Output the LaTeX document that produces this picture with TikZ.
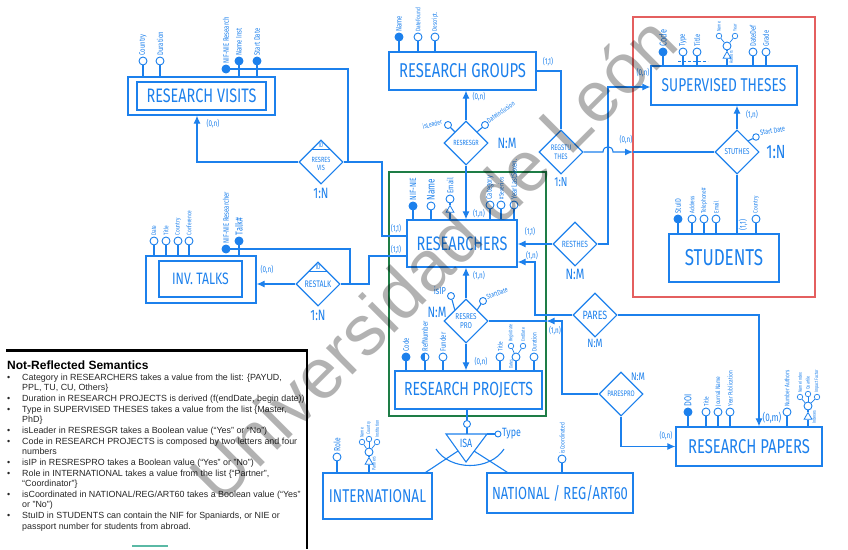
\documentclass[tikz,border=0pt]{standalone}
\usepackage{fontspec}
\setmainfont{Liberation Sans}
\newfontfamily\hand[FakeStretch=0.74]{Fira Sans}
\usetikzlibrary{shapes.geometric,arrows.meta}
\definecolor{inkb}{RGB}{28,128,236}
\definecolor{grnb}{RGB}{30,125,70}
\definecolor{redb}{RGB}{228,95,95}
\definecolor{tealb}{RGB}{90,185,165}
\tikzset{
  ln/.style={draw=inkb, line width=1.1pt},
  arr/.style={ln, -{Latex[length=8pt,width=7pt]}},
  ent/.style={draw=inkb, line width=1.3pt, inner sep=0pt, text=inkb},
  rel/.style={diamond, draw=inkb, line width=1.1pt, inner sep=0pt, minimum width=44pt, minimum height=44pt, text=inkb, align=center, font=\hand\fontsize{7.5}{8}\selectfont},
  att/.style={circle, draw=inkb, line width=0.9pt, fill=white, inner sep=0pt, minimum size=8pt},
  keyatt/.style={att, fill=inkb},
  subatt/.style={att, minimum size=5.5pt, line width=0.7pt},
  tri/.style={regular polygon, regular polygon sides=3, draw=inkb, line width=0.8pt, inner sep=0pt, minimum size=10pt, fill=white},
  lab/.style={font=\hand\fontsize{8}{8}\selectfont, text=inkb, rotate=90, anchor=west, inner sep=1pt},
  slab/.style={lab, font=\hand\fontsize{6.5}{6.5}\selectfont},
  tlab/.style={lab, font=\hand\fontsize{5}{5}\selectfont},
  labh/.style={font=\hand\fontsize{7.5}{7.5}\selectfont, text=inkb, inner sep=1pt},
  card/.style={font=\hand\fontsize{8.5}{8.5}\selectfont, text=inkb, inner sep=0pt},
  ratio/.style={font=\hand\fontsize{15}{15}\selectfont, text=inkb, inner sep=0pt},
}
\begin{document}
\begin{tikzpicture}[x=1pt,y=-1pt]
\useasboundingbox (0,0) rectangle (848,549);
% aggregation frames
\draw[grnb, line width=1.2pt] (389,172) rectangle (546,416);
\draw[redb, line width=1.2pt] (633,17) rectangle (815,297);

% ---------- entities ----------
\node[ent, minimum width=147pt, minimum height=38pt] (rvo) at (201.5,96) {};
\node[ent, minimum width=129pt, minimum height=28pt, font=\hand\fontsize{19.5}{19.5}\selectfont] (rv) at (201.5,96) {RESEARCH VISITS};
\node[ent, minimum width=110pt, minimum height=47pt] (ito) at (201,279.5) {};
\node[ent, minimum width=83pt, minimum height=36pt, font=\hand\fontsize{16.5}{16.5}\selectfont] (it) at (200.5,279) {INV. TALKS};
\node[ent, minimum width=147pt, minimum height=38pt, font=\hand\fontsize{20}{20}\selectfont] (rg) at (462.5,71) {RESEARCH GROUPS};
\node[ent, minimum width=146pt, minimum height=39pt, font=\hand\fontsize{18.5}{18.5}\selectfont] (st) at (724,85.5) {SUPERVISED THESES};
\node[ent, minimum width=110pt, minimum height=48pt, font=\hand\fontsize{23}{23}\selectfont] (stu) at (724,258) {STUDENTS};
\node[ent, minimum width=110pt, minimum height=47pt, font=\hand\fontsize{19.5}{19.5}\selectfont] (res) at (462,243.5) {RESEARCHERS};
\node[ent, minimum width=147pt, minimum height=38pt, font=\hand\fontsize{19}{19}\selectfont] (rp) at (468.5,390) {RESEARCH PROJECTS};
\node[ent, minimum width=109pt, minimum height=46pt, font=\hand\fontsize{18.5}{18.5}\selectfont] (int) at (377.5,496) {INTERNATIONAL};
\node[ent, minimum width=146pt, minimum height=40pt, font=\hand\fontsize{17.5}{17.5}\selectfont] (nat) at (560,493) {NATIONAL / REG/ART60};
\node[ent, minimum width=146pt, minimum height=39pt, font=\hand\fontsize{20}{20}\selectfont] (pap) at (749,446.5) {RESEARCH PAPERS};

% ---------- relationships ----------
\node[rel] (rrv) at (321,162) {\rule{0pt}{9pt}RESRES\\VIS};
\node[rel, font=\hand\fontsize{9.5}{9.5}\selectfont] (rtalk) at (318,284) {\rule{0pt}{8pt}RESTALK};
\node[rel, font=\hand\fontsize{7.5}{7.5}\selectfont] (rrg) at (466,143) {RESRESGR};
\node[rel, font=\hand\fontsize{8}{8.5}\selectfont] (regstu) at (561,152) {REGSTU\\THES};
\node[rel, font=\hand\fontsize{8.5}{8.5}\selectfont] (stuth) at (737,152) {STUTHES};
\node[rel, font=\hand\fontsize{9}{9}\selectfont] (resth) at (575,244) {RESTHES};
\node[rel, font=\hand\fontsize{8.5}{9}\selectfont] (rrp) at (466,321) {RESRES\\PRO};
\node[rel, font=\hand\fontsize{12}{12}\selectfont] (pares) at (595,315) {PARES};
\node[rel, font=\hand\fontsize{8}{8}\selectfont] (parespro) at (621,394) {PARESPRO};
% ID marks
\draw[ln, line width=0.8pt] (312,149) -- (330,149);
\node[card, font=\hand\fontsize{6.5}{6.5}\selectfont] (idrv) at (321,145.5) {ID};
\draw[ln, line width=0.8pt] (309,271) -- (327,271);
\node[card, font=\hand\fontsize{7}{7}\selectfont] (idtalk) at (318,267) {ID};

% ---------- connectors ----------
\draw[arr] (rrv.west) -| ([xshift=-4.5pt]rvo.south);
\draw[ln] (rrv.east) -- (382,162) |- ([yshift=7.5pt]res.west);
\draw[arr] (rtalk.west) -- (rtalk.west -| ito.east);
\draw[ln] (rtalk.east) -- (369,284) |- ([yshift=-12.5pt]res.west);
\draw[arr] (rrg.north) -- (rrg.north |- rg.south);
\draw[arr] (rrg.south) -- (rrg.south |- res.north);
\draw[ln] (rg.east) -| (regstu.north);
\coordinate (redIn) at (633,152);
\draw[arr] (regstu.east) -- (603,152) .. controls (603,145) and (613,145) .. (613,152) -- (redIn);
\draw[ln] (redIn) -- (stuth.west);
\draw[arr] (stuth.north) -- (stuth.north |- st.south);
\draw[ln] (stuth.south) -- (stuth.south |- stu.north);
\draw[arr] (resth.east) -- (608,244) -- (608,87) -- ([yshift=-1.5pt]st.west);
\draw[arr] (resth.west) -- (resth.west -| res.east);
\draw[arr] (pares.west) -- (535,315) |- ([yshift=-18.5pt]res.east);
\draw[arr] (pares.east) -| ([xshift=10pt]pap.north);
\draw[arr] (rrp.north) -- (rrp.north |- res.south);
\draw[arr] (rrp.south) -- (rrp.south |- rp.north);
\coordinate (greenIn) at (546.5,321);
\draw[ln] (rrp.east) -- (greenIn);
\draw[arr] (parespro.west) -- (562,394) -- (562,321) -- (greenIn);
\draw[arr] (parespro.south) |- (pap.west);

% ---------- ISA ----------
\node[att, minimum size=7pt] (isaC) at (467,424) {};
\coordinate (isaL) at (446,434);
\coordinate (isaR) at (487,434);
\coordinate (isaB) at (466,462);
\draw[ln] (isaC) -- (isaC |- rp.south);
\draw[ln] (isaC) -- (isaC |- isaL);
\draw[ln] (isaL) -- (isaR) -- (isaB) -- cycle;
\node[card, font=\hand\fontsize{12}{12}\selectfont] (isaT) at (466,443) {ISA};
\node[att, minimum size=6pt] (isaType) at (498,434) {};
\draw[ln] (isaR) -- (isaType);
\node[labh, anchor=west, font=\hand\fontsize{12}{12}\selectfont] (lisaType) at (501,434) {Type};
\draw[ln] (436,449) .. controls (450,471) and (490,471) .. (504,449);
\draw[ln] ([xshift=-7pt]int.north east) -- (458,451);
\draw[ln] ([xshift=21pt]nat.north west) -- (474,451);

% ---------- attributes: RESEARCH VISITS ----------
\node[att] (rvCountry) at (143,61) {};
\node[att] (rvDur) at (160,61) {};
\node[keyatt] (rvNif) at (226,69) {};
\node[keyatt] (rvInst) at (239,61) {};
\node[keyatt] (rvStart) at (257,61) {};
\foreach \a in {rvCountry,rvDur,rvInst,rvStart} \draw[ln] (\a) -- (\a |- rvo.north);
\draw[ln] (rvNif) -- (348,69) -- (348,162);
\node[lab] (lrvCountry) at (rvCountry.north) {Country};
\node[lab] (lrvDur) at (rvDur.north) {Duration};
\node[lab] (lrvNif) at (rvNif.north) {NIF-NIE Research};
\node[lab] (lrvInst) at (rvInst.north) {Name Inst};
\node[lab] (lrvStart) at (rvStart.north) {Start Date};

% ---------- INV. TALKS ----------
\node[att] (itDate) at (154,241) {};
\node[att] (itTitle) at (166,241) {};
\node[att] (itCountry) at (178,241) {};
\node[att] (itConf) at (189,241) {};
\node[keyatt] (itNif) at (226,249) {};
\node[keyatt] (itTalk) at (239,241) {};
\foreach \a in {itDate,itTitle,itCountry,itConf,itTalk} \draw[ln] (\a) -- (\a |- ito.north);
\draw[ln] (itNif) -- (350,249) -- (350,284);
\node[slab] (litDate) at (itDate.north) {Date};
\node[slab] (litTitle) at (itTitle.north) {Title};
\node[slab] (litCountry) at (itCountry.north) {Country};
\node[slab] (litConf) at (itConf.north) {Conference};
\node[lab] (litNif) at (itNif.north) {NIF-NIE Researcher};
\node[lab, font=\hand\fontsize{10}{10}\selectfont] (litTalk) at (itTalk.north) {Talk\#};

% ---------- RESEARCH GROUPS ----------
\node[keyatt] (rgName) at (399,37) {};
\node[att] (rgDate) at (418,37) {};
\node[att] (rgDesc) at (435,37) {};
\foreach \a in {rgName,rgDate,rgDesc} \draw[ln] (\a) -- (\a |- rg.north);
\node[lab] (lrgName) at (rgName.north) {Name};
\node[slab] (lrgDate) at (rgDate.north) {DateFound};
\node[slab] (lrgDesc) at (rgDesc.north) {Descript.};
% RESRESGR attributes
\node[att, minimum size=7pt] (rrgLead) at (448,125) {};
\node[att, minimum size=7pt] (rrgDate) at (485,125) {};
\draw[ln] (rrgLead) -- (rrg.north west);
\draw[ln] (rrgDate) -- (rrg.north east);
\node[labh, anchor=south east, rotate=15, font=\hand\fontsize{7}{7}\selectfont] (lrrgLead) at (rrgLead.west) {isLeader};
\node[labh, anchor=south west, rotate=35, font=\hand\fontsize{7}{7}\selectfont] (lrrgDate) at (rrgDate.east) {DateInclusion};

% ---------- SUPERVISED THESES ----------
\node[keyatt] (stCode) at (663,52) {};
\node[att] (stType) at (683,52) {};
\node[att] (stTitle) at (697,52) {};
\node[att] (stAdv) at (727,46) {};
\node[tri, minimum size=9pt] (stAdvT) at (727,56) {};
\node[subatt] (stAdvN) at (719,36) {};
\node[subatt] (stAdvY) at (735,36) {};
\node[att] (stDate) at (753,52) {};
\node[att] (stGrade) at (766,52) {};
\foreach \a in {stCode,stType,stTitle,stDate,stGrade} \draw[ln] (\a) -- (\a |- st.north);
\draw[ln] (stAdv) -- (stAdvT);
\draw[ln] (stAdvT) -- (stAdvT |- st.north);
\draw[ln, line width=0.7pt] (stAdvN) -- (stAdv);
\draw[ln, line width=0.7pt] (stAdvY) -- (stAdv);
\draw[ln, line width=0.7pt, dash pattern=on 3pt off 2pt] (678,61) -- (708,61);
\node[lab, font=\hand\fontsize{10}{10}\selectfont] (lstCode) at (stCode.north) {Code};
\node[lab] (lstType) at (stType.north) {Type};
\node[lab] (lstTitle) at (stTitle.north) {Title};
\node[tlab] (lstAdvN) at (stAdvN.north) {Name};
\node[tlab] (lstAdvY) at (stAdvY.north) {Year};
\node[tlab] (lstAdv) at (731,65) {Authors};
\node[lab] (lstDate) at (stDate.north) {DateDef};
\node[lab] (lstGrade) at (stGrade.north) {Grade};
% STUTHES attribute
\node[att, minimum size=6.5pt] (stuthStart) at (756,137) {};
\draw[ln] (stuthStart) -- (stuth.north east);
\node[labh, anchor=south west, rotate=10, font=\hand\fontsize{7.5}{7.5}\selectfont] (lstuthStart) at (stuthStart.east) {Start Date};

% ---------- STUDENTS ----------
\node[keyatt] (stuId) at (678,219) {};
\node[att] (stuAddr) at (692,219) {};
\node[att] (stuTel) at (704,219) {};
\node[att] (stuMail) at (716,219) {};
\node[att] (stuCountry) at (756,219) {};
\foreach \a in {stuId,stuAddr,stuTel,stuMail,stuCountry} \draw[ln] (\a) -- (\a |- stu.north);
\node[lab] (lstuId) at (stuId.north) {StuID};
\node[slab] (lstuAddr) at (stuAddr.north) {Address};
\node[slab] (lstuTel) at (stuTel.north) {Telephone\#};
\node[slab] (lstuMail) at (stuMail.north) {Email};
\node[slab] (lstuCountry) at (stuCountry.north) {Country};

% ---------- RESEARCHERS ----------
\node[keyatt] (resNif) at (413,206) {};
\node[att] (resName) at (431,206) {};
\node[att] (resMail) at (450,199) {};
\node[tri, minimum size=9pt] (resMailT) at (450,210) {};
\node[att] (resCat) at (490,205) {};
\node[att] (resSex) at (501,205) {};
\node[att] (resYear) at (514,205) {};
\foreach \a in {resNif,resName,resCat,resSex,resYear} \draw[ln] (\a) -- (\a |- res.north);
\draw[ln] (resMail) -- (resMailT);
\draw[ln] (resMailT) -- (resMailT |- res.north);
\node[lab, font=\hand\fontsize{9}{9}\selectfont] (lresNif) at (resNif.north) {NIF-NIE};
\node[lab, font=\hand\fontsize{11}{11}\selectfont] (lresName) at (resName.north) {Name};
\node[lab, font=\hand\fontsize{8.5}{8.5}\selectfont] (lresMail) at (resMail.north) {Email};
\node[lab] (lresCat) at (resCat.north) {Category};
\node[slab] (lresSex) at (resSex.north) {\#Sexenios};
\node[lab] (lresYear) at (resYear.north) {YearLastSexen.};

% ---------- RESRESPRO attributes ----------
\node[att, minimum size=7pt] (rrpIp) at (451,296) {};
\node[att, minimum size=7pt] (rrpStart) at (483,301) {};
\draw[ln] (rrpIp) -- (rrp.north west);
\draw[ln] (rrpStart) -- (rrp.north east);
\node[labh, anchor=south east, font=\hand\fontsize{10}{10}\selectfont] (lrrpIp) at (rrpIp.west) {isIP};
\node[labh, anchor=south west, rotate=20, font=\hand\fontsize{7}{7}\selectfont] (lrrpStart) at (rrpStart.east) {StartDate};

% ---------- RESEARCH PROJECTS ----------
\node[keyatt] (rpCode) at (406,357) {};
\node[att, path picture={\fill[inkb] (path picture bounding box.south west) rectangle (path picture bounding box.north);}] (rpRef) at (425,357) {};
\node[att] (rpFund) at (443,357) {};
\node[att] (rpTitle) at (500,357) {};
\node[att] (rpDates) at (516,357) {};
\node[subatt] (rpDatesB) at (511,346) {};
\node[subatt] (rpDatesE) at (523,346) {};
\node[att] (rpDur) at (534,357) {};
\foreach \a in {rpCode,rpRef,rpFund,rpTitle,rpDates,rpDur} \draw[ln] (\a) -- (\a |- rp.north);
\draw[ln, line width=0.7pt] (rpDatesB) -- (rpDates);
\draw[ln, line width=0.7pt] (rpDatesE) -- (rpDates);
\node[lab] (lrpCode) at (rpCode.north) {Code};
\node[lab] (lrpRef) at (rpRef.north) {RefNumber};
\node[lab] (lrpFund) at (rpFund.north) {Funder};
\node[slab] (lrpTitle) at (rpTitle.north) {Title};
\node[tlab] (lrpDatesB) at (rpDatesB.north) {BeginDate};
\node[tlab] (lrpDatesE) at (rpDatesE.north) {EndDate};
\node[tlab] (lrpDates) at (511,370) {Dates};
\node[slab] (lrpDur) at (rpDur.north) {Duration};

% ---------- INTERNATIONAL ----------
\node[att] (intRole) at (337,457) {};
\node[att] (intPart) at (369,452) {};
\node[tri, minimum size=9pt] (intPartT) at (369,462) {};
\node[subatt] (intPN) at (362,442) {};
\node[subatt] (intPC) at (369,439) {};
\node[subatt] (intPI) at (377,442) {};
\draw[ln] (intRole) -- (intRole |- int.north);
\draw[ln] (intPart) -- (intPartT);
\draw[ln] (intPartT) -- (intPartT |- int.north);
\foreach \a in {intPN,intPC,intPI} \draw[ln, line width=0.7pt] (\a) -- (intPart);
\node[lab, font=\hand\fontsize{9}{9}\selectfont] (lintRole) at (intRole.north) {Role};
\node[tlab] (lintPN) at (intPN.north) {Name};
\node[tlab] (lintPC) at (intPC.north) {Country};
\node[tlab] (lintPI) at (intPI.north) {Institution};
\node[tlab] (lintPart) at (374,472) {Partners};

% ---------- NATIONAL ----------
\node[att] (natCoord) at (562,459) {};
\draw[ln] (natCoord) -- (natCoord |- nat.north);
\node[slab] (lnatCoord) at (natCoord.north) {isCoordinated};

% ---------- RESEARCH PAPERS ----------
\node[keyatt] (papDoi) at (688,412) {};
\node[att] (papTitle) at (706,412) {};
\node[att] (papJour) at (718,412) {};
\node[att] (papYear) at (730,412) {};
\node[att] (papNum) at (787,412) {};
\node[att] (papImp) at (808,406) {};
\node[tri, minimum size=9pt] (papImpT) at (808,417) {};
\node[subatt] (papI1) at (800,397) {};
\node[subatt] (papI2) at (808,394) {};
\node[subatt] (papI3) at (817,397) {};
\foreach \a in {papDoi,papTitle,papJour,papYear,papNum} \draw[ln] (\a) -- (\a |- pap.north);
\draw[ln] (papImp) -- (papImpT);
\draw[ln] (papImpT) -- (papImpT |- pap.north);
\foreach \a in {papI1,papI2,papI3} \draw[ln, line width=0.7pt] (\a) -- (papImp);
\node[lab, font=\hand\fontsize{10}{10}\selectfont] (lpapDoi) at (papDoi.north) {DOI};
\node[slab] (lpapTitle) at (papTitle.north) {Title};
\node[slab] (lpapJour) at (papJour.north) {Journal Name};
\node[slab] (lpapYear) at (papYear.north) {Year Publication};
\node[slab] (lpapNum) at (papNum.north) {Number Authors};
\node[tlab] (lpapI1) at (papI1.north) {Name Index};
\node[tlab] (lpapI2) at (papI2.north) {Quartile};
\node[tlab] (lpapI3) at (papI3.north) {Impact Factor};
\node[tlab] (lpapImp) at (814,425) {Indexes};

% ---------- cardinalities ----------
\node[card] (k1) at (213,124) {(0,n)};
\node[card] (k2) at (396,229) {(1,1)};
\node[card] (k3) at (396,250) {(1,1)};
\node[card] (k4) at (267,270) {(0,n)};
\node[card] (k5) at (479,97) {(0,n)};
\node[card] (k6) at (479,214) {(1,n)};
\node[card] (k7) at (548,62) {(1,1)};
\node[card] (k8) at (626,140) {(0,n)};
\node[card] (k9) at (643,73) {(0,n)};
\node[card] (k10) at (752,115) {(1,n)};
\node[card, rotate=90] (k11) at (743,225) {(1,1)};
\node[card] (k12) at (530,232) {(1,1)};
\node[card] (k13) at (532,256) {(1,n)};
\node[card] (k14) at (479,276) {(1,n)};
\node[card] (k15) at (481,362) {(0,n)};
\node[card] (k16) at (555,331) {(1,n)};
\node[card, font=\hand\fontsize{11}{11}\selectfont] (k17) at (772,418) {(0,m)};
\node[card] (k18) at (666,436) {(0,n)};

% ---------- ratios ----------
\node[ratio] (r1) at (321,193) {1:N};
\node[ratio] (r2) at (318,315) {1:N};
\node[ratio] (r3) at (507,143) {N:M};
\node[ratio, font=\hand\fontsize{13}{13}\selectfont] (r4) at (561,182) {1:N};
\node[ratio, font=\hand\fontsize{19}{19}\selectfont] (r5) at (776,152) {1:N};
\node[ratio] (r6) at (575,274) {N:M};
\node[ratio] (r7) at (437,312) {N:M};
\node[ratio, font=\hand\fontsize{12}{12}\selectfont] (r8) at (595,343) {N:M};
\node[ratio, font=\hand\fontsize{11}{11}\selectfont] (r9) at (638,377) {N:M};

% ---------- Not-reflected semantics ----------
\draw[black, line width=3pt] (6,350) -- (308,350);
\draw[black, line width=2pt] (307,350) -- (307,549);
\draw[tealb, line width=2pt] (132,546) -- (168,546);
\node[anchor=west, inner sep=0pt, font=\bfseries\fontsize{12}{12}\selectfont] (semh) at (7,365) {Not-Reflected Semantics};
\node[anchor=north west, inner sep=0pt, text=black!85, font=\fontsize{8.9}{10.65}\selectfont] (sem) at (7,372.5) {%
\begin{tabular}{@{}p{15pt}@{}l@{}}
\textbullet & Category in RESEARCHERS takes a value from the list: \{PAYUD,\\
 & PPL, TU, CU, Others\}\\
\textbullet & Duration in RESEARCH PROJECTS is derived (f(endDate, begin date))\\
\textbullet & Type in SUPERVISED THESES takes a value from the list \{Master,\\
 & PhD\}\\
\textbullet & isLeader in RESRESGR takes a Boolean value (“Yes” or “No”)\\
\textbullet & Code in RESEARCH PROJECTS is composed by two letters and four\\
 & numbers\\
\textbullet & isIP in RESRESPRO takes a Boolean value (“Yes” or "No")\\
\textbullet & Role in INTERNATIONAL takes a value from the list \{“Partner”,\\
 & “Coordinator”\}\\
\textbullet & isCoordinated in NATIONAL/REG/ART60 takes a Boolean value (“Yes”\\
 & or "No")\\
\textbullet & StuID in STUDENTS can contain the NIF for Spaniards, or NIE or\\
 & passport number for students from abroad.
\end{tabular}};

% ---------- watermark ----------
\node[rotate=45, text=black, text opacity=0.3, inner sep=0pt, font=\fontsize{71}{71}\selectfont] (wm) at (433,258) {Universidad de León};
\end{tikzpicture}
\end{document}
